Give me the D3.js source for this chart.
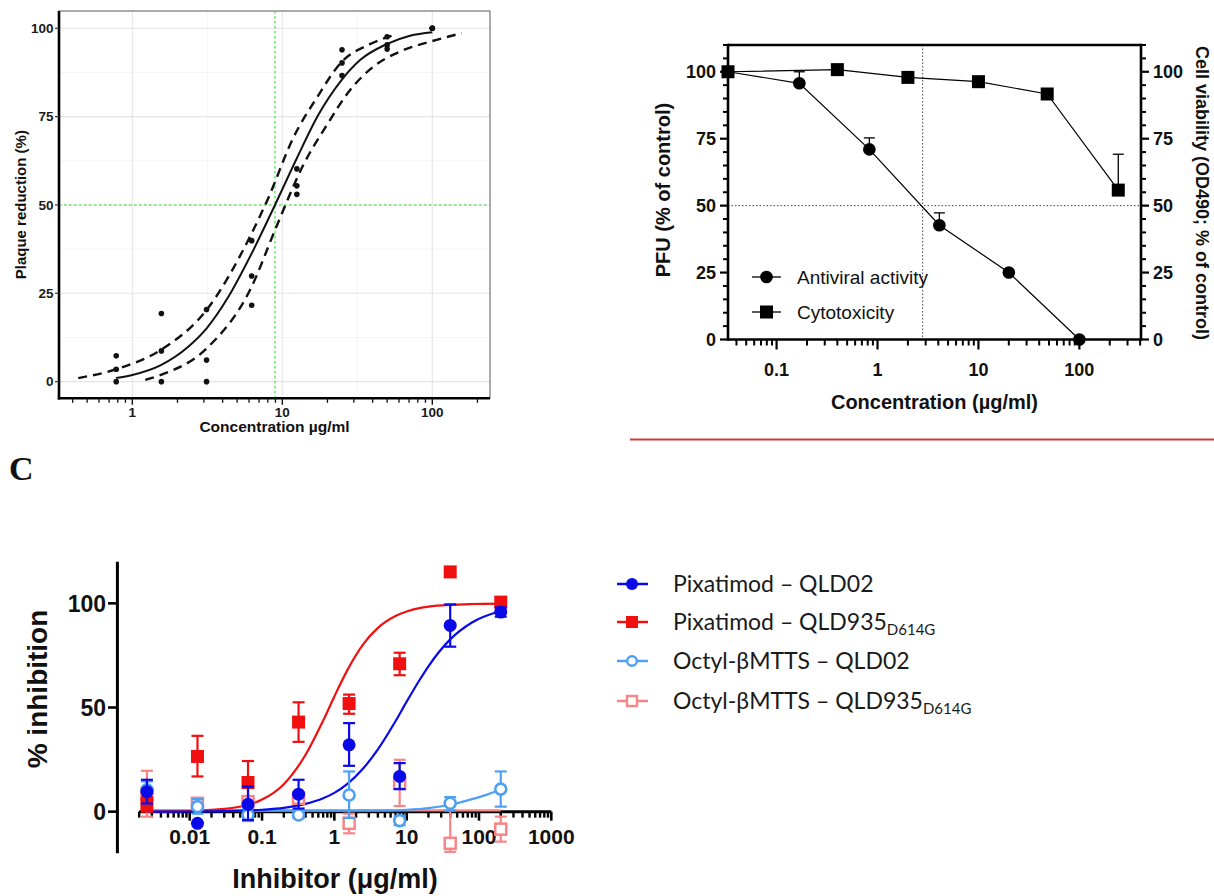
<!DOCTYPE html>
<html><head><meta charset="utf-8">
<script src="https://cdn.jsdelivr.net/npm/d3@7"></script>
<style>body{margin:0;background:#fff} svg{display:block}</style>
</head><body>
<svg id="chart" width="1214" height="896"></svg>
<script>
// ================= DATA =================
// ---- Panel A: plaque reduction (replicates) ----
const aConc = [0.78125, 1.5625, 3.125, 6.25, 12.5, 25, 50, 100];
const aRep1 = [7.3, 19.3, 20.4, 39.9, 60.2, 93.9, 97.6, 100];
const aRep2 = [3.5, 8.7, 6.1, 29.9, 55.4, 90.2, 95.3, 100];
const aRep3 = [0, 0, 0, 21.6, 53.0, 86.6, 94.1, 100];
// fitted curve and confidence band
const aFitX = [0.78, 1.0, 1.55, 2.36, 3.13, 4.37, 6.25, 8.94, 12.5, 17.4, 24.9, 33, 49.6, 71, 100];
const aFitY = [1.0, 1.9, 4.7, 9.9, 15.1, 24.0, 36.3, 50.0, 63.2, 75.5, 85.4, 91.0, 95.5, 97.9, 98.9];
const aUpX = [0.436, 0.78, 1.55, 3.13, 6.25, 8.07, 11.8, 16.9, 24.9, 38.4, 57.9];
const aUpY = [1.0, 3.5, 9.0, 20.3, 42.0, 52.0, 68.9, 80.2, 90.5, 95.5, 98.3];
const aLoX = [1.22, 1.55, 3.13, 6.25, 8.94, 13.8, 19.8, 28.3, 40.4, 60.9, 96.6, 157];
const aLoY = [0.5, 1.9, 9.4, 26.9, 42.9, 61.3, 72.6, 82.5, 89.1, 93.4, 96.2, 98.6];
const aIC50 = [8.94];
const aHalf = [50];
const aXTicks = [1, 10, 100];
const aXTickLabels = ["1", "10", "100"];
const aXMinorGrid = [3.1623, 31.623];
const aYTicks = [0, 25, 50, 75, 100];
const aYMinorGrid = [12.5, 37.5, 62.5, 87.5];

// ---- Panel B: antiviral activity / cytotoxicity ----
const bAntiConc = [0.033, 0.168, 0.83, 4.1, 20, 100];
const bAntiVal = [100, 95.7, 71.0, 42.7, 25.0, 0];
const bAntiErr = [0, 4.3, 4.3, 4.6, 0, 0];
const bCytoConc = [0.033, 0.4, 2, 10, 48, 243];
const bCytoVal = [100, 100.8, 97.9, 96.3, 91.7, 55.8];
const bCytoErr = [0, 0, 0, 0, 0, 13.4];
const bRefX = [2.8];
const bRefY = [50];
const bXTicks = [0.1, 1, 10, 100];
const bXTickLabels = ["0.1", "1", "10", "100"];
const bYTicks = [0, 25, 50, 75, 100];
const bLegend = ["Antiviral activity", "Cytotoxicity"];

// ---- Panel C: % inhibition ----
const cConc = [0.00256, 0.0128, 0.064, 0.32, 1.6, 8, 40, 200];
const pixQLD02 = [9.6, -5.6, 3.5, 8.4, 32.1, 16.9, 89.4, 95.8];
const pixQLD02Hi = [15.3, -5.6, 12, 15.3, 42.5, 23.3, 99.5, 98];
const pixQLD02Lo = [3.9, -5.6, -4, 1.5, 22, 10.8, 79.2, 93.6];
const pixQLD935 = [3.5, 26.5, 14, 43, 51.9, 71, 115.1, 100.6];
const pixQLD935Hi = [7, 36.4, 24.3, 52.5, 56.2, 76.3, 115.1, 100.6];
const pixQLD935Lo = [0, 16.9, 4, 33.5, 47, 65.5, 115.1, 100.6];
const octQLD02 = [10.5, 2.4, -1.6, -1.6, 8, -4.3, 4, 10.8];
const octQLD02Hi = [14.5, 6, 1.5, 0, 19.3, -2, 7, 19.3];
const octQLD02Lo = [6.5, -1, -4.5, -3, -3, -6.5, 0.5, 2.4];
const octQLD935 = [8.5, 4, 4.8, 6.4, -5.6, 13.6, -15.2, -8.4];
const octQLD935Hi = [19.6, 6.5, 7, 8.5, -1, 24.9, 3.2, -2.4];
const octQLD935Lo = [-2.4, 1, 2.5, 4, -10.4, 2.7, -19.3, -14.4];
// fitted curves
const cFitX = [0.0025, 0.005, 0.01, 0.03, 0.1, 0.2, 0.4, 0.7, 1, 1.5, 2.5, 4, 7, 10, 15, 20, 40, 80, 200];
const pixQLD935Fit = [0, 0.1, 0.3, 1.3, 5.8, 13.2, 27.3, 43.7, 55.3, 67.7, 80.3, 88.2, 93.9, 96.1, 97.7, 98.4, 99.3, 99.7, 99.9];
const pixQLD02Fit = [0, 0.04, 0.08, 0.25, 0.9, 1.8, 3.7, 6.4, 9.0, 13.2, 20.7, 29.9, 43.4, 52.8, 63.1, 69.8, 82.7, 90.8, 96.3];
const octQLD02FitX = [0.0025, 0.1, 1, 5, 10, 20, 40, 80, 120, 200];
const octQLD02Fit = [0.5, 0.5, 0.5, 0.6, 0.9, 1.7, 3.3, 6.0, 7.8, 10.5];
const octQLD935FitX = [0.0025, 200];
const octQLD935Fit = [0.6, 0.6];
const cXTicks = [0.01, 0.1, 1, 10, 100, 1000];
const cXTickLabels = ["0.01", "0.1", "1", "10", "100", "1000"];
const cYTicks = [0, 50, 100];
const cSeriesNames = ["Pixatimod \u2013 QLD02", "Pixatimod \u2013 QLD935", "Octyl-\u03B2MTTS \u2013 QLD02", "Octyl-\u03B2MTTS \u2013 QLD935"];
const cSeriesSubs = ["", "D614G", "", "D614G"];

// ================= DRAWING =================
const svg = d3.select("#chart");
const FONT = "'Liberation Sans', Arial, Helvetica, sans-serif";
const line = (x, y) => d3.line().x(d => x(d[0])).y(d => y(d[1])).curve(d3.curveMonotoneX);
const zip = (a, b) => a.map((v, i) => [v, b[i]]);

// ---------------- Panel A ----------------
(function () {
  const g = svg.append("g");
  const x = d3.scaleLog().domain([0.3245, 242.5]).range([59, 490]);
  const y = d3.scaleLinear().domain([-5, 105]).range([399.3, 10.6]);
  const [x0, x1] = x.range(), yTop = 11, yBot = 398.3;
  g.selectAll(".gmy").data(aYMinorGrid).join("line").attr("x1", x0).attr("x2", x1)
    .attr("y1", d => y(d)).attr("y2", d => y(d)).attr("stroke", "#f2f2f2").attr("stroke-width", 0.8);
  g.selectAll(".gmx").data(aXMinorGrid).join("line").attr("y1", yTop).attr("y2", yBot)
    .attr("x1", d => x(d)).attr("x2", d => x(d)).attr("stroke", "#f2f2f2").attr("stroke-width", 0.8);
  g.selectAll(".gy").data(aYTicks).join("line").attr("x1", x0).attr("x2", x1)
    .attr("y1", d => y(d)).attr("y2", d => y(d)).attr("stroke", "#e4e4e4").attr("stroke-width", 1.1);
  g.selectAll(".gx").data(aXTicks).join("line").attr("y1", yTop).attr("y2", yBot)
    .attr("x1", d => x(d)).attr("x2", d => x(d)).attr("stroke", "#e4e4e4").attr("stroke-width", 1.1);
  g.append("rect").attr("x", x0).attr("y", yTop).attr("width", x1 - x0).attr("height", yBot - yTop)
    .attr("fill", "none").attr("stroke", "#6a6a6a").attr("stroke-width", 1.1);
  g.selectAll(".ic").data(aIC50).join("line").attr("x1", d => x(d)).attr("x2", d => x(d))
    .attr("y1", yTop).attr("y2", yBot).attr("stroke", "#2ee02e").attr("stroke-width", 1.1).attr("stroke-dasharray", "2.5,2.5");
  g.selectAll(".hf").data(aHalf).join("line").attr("y1", d => y(d)).attr("y2", d => y(d))
    .attr("x1", x0).attr("x2", x1).attr("stroke", "#2ee02e").attr("stroke-width", 1.1).attr("stroke-dasharray", "2.5,2.5");
  g.append("path").attr("d", line(x, y)(zip(aUpX, aUpY))).attr("fill", "none").attr("stroke", "#111")
    .attr("stroke-width", 2.4).attr("stroke-dasharray", "9,6");
  g.append("path").attr("d", line(x, y)(zip(aLoX, aLoY))).attr("fill", "none").attr("stroke", "#111")
    .attr("stroke-width", 2.4).attr("stroke-dasharray", "9,6");
  g.append("path").attr("d", line(x, y)(zip(aFitX, aFitY))).attr("fill", "none").attr("stroke", "#111")
    .attr("stroke-width", 2);
  [aRep1, aRep2, aRep3].forEach(rep => {
    g.selectAll(null).data(zip(aConc, rep)).join("circle").attr("cx", d => x(d[0])).attr("cy", d => y(d[1]))
      .attr("r", 2.8).attr("fill", "#111");
  });
  g.append("line").attr("x1", x0).attr("x2", x0).attr("y1", yTop).attr("y2", yBot + 1.2).attr("stroke", "#000").attr("stroke-width", 2.6);
  g.append("line").attr("x1", x0 - 1.2).attr("x2", x1).attr("y1", yBot).attr("y2", yBot).attr("stroke", "#000").attr("stroke-width", 2.6);
  g.selectAll(".yt").data(aYTicks).join("line").attr("x1", x0 - 4).attr("x2", x0).attr("y1", d => y(d)).attr("y2", d => y(d))
    .attr("stroke", "#333").attr("stroke-width", 1.2);
  g.selectAll(".yl").data(aYTicks).join("text").attr("x", x0 - 5.5).attr("y", d => y(d)).attr("dy", "0.36em")
    .attr("text-anchor", "end").attr("font-family", FONT).attr("font-weight", "bold").attr("font-size", 13.5).attr("fill", "#1a1a1a").text(d => d);
  const minor = x.ticks().filter(t => !aXTicks.includes(t));
  g.selectAll(".xm").data(minor).join("line").attr("x1", d => x(d)).attr("x2", d => x(d)).attr("y1", yBot).attr("y2", yBot + 4.5)
    .attr("stroke", "#111").attr("stroke-width", 1.3);
  g.selectAll(".xt").data(aXTicks).join("line").attr("x1", d => x(d)).attr("x2", d => x(d)).attr("y1", yBot).attr("y2", yBot + 6.5)
    .attr("stroke", "#111").attr("stroke-width", 1.4);
  g.selectAll(".xl").data(aXTicks).join("text").attr("x", d => x(d)).attr("y", 417)
    .attr("text-anchor", "middle").attr("font-family", FONT).attr("font-weight", "bold").attr("font-size", 13.5).attr("fill", "#1a1a1a")
    .text((d, i) => aXTickLabels[i]);
  g.append("text").attr("x", (x0 + x1) / 2).attr("y", 432).attr("text-anchor", "middle").attr("font-family", FONT)
    .attr("font-weight", "bold").attr("font-size", 15.5).attr("fill", "#111").text("Concentration \u00B5g/ml");
  g.append("text").attr("transform", `translate(26,${(yTop + yBot) / 2}) rotate(-90)`).attr("text-anchor", "middle").attr("font-family", FONT)
    .attr("font-weight", "bold").attr("font-size", 15).attr("fill", "#111").text("Plaque reduction (%)");
})();

// ---------------- Panel B ----------------
(function () {
  const g = svg.append("g");
  const x = d3.scaleLog().domain([0.033, 408]).range([728, 1141]);
  const y = d3.scaleLinear().domain([0, 110]).range([339.5, 45]);
  const [x0, x1] = x.range(), yTop = 45, yBot = 339.5;
  g.selectAll(".rx").data(bRefX).join("line").attr("x1", d => x(d)).attr("x2", d => x(d)).attr("y1", yTop).attr("y2", yBot)
    .attr("stroke", "#444").attr("stroke-width", 1).attr("stroke-dasharray", "1.5,2");
  g.selectAll(".ry").data(bRefY).join("line").attr("y1", d => y(d)).attr("y2", d => y(d)).attr("x1", x0).attr("x2", x1)
    .attr("stroke", "#444").attr("stroke-width", 1).attr("stroke-dasharray", "1.5,2");
  g.append("line").attr("x1", x0).attr("x2", x1).attr("y1", yTop).attr("y2", yTop).attr("stroke", "#000").attr("stroke-width", 2.6);
  g.append("line").attr("x1", x0).attr("x2", x1).attr("y1", yBot).attr("y2", yBot).attr("stroke", "#000").attr("stroke-width", 2.6);
  g.append("line").attr("x1", x0).attr("x2", x0).attr("y1", yTop - 1.3).attr("y2", yBot + 1.3).attr("stroke", "#000").attr("stroke-width", 2.6);
  g.append("line").attr("x1", x1).attr("x2", x1).attr("y1", yTop - 1.3).attr("y2", yBot + 1.3).attr("stroke", "#000").attr("stroke-width", 2.6);
  const yMinor = d3.range(5, 111, 5).filter(v => !bYTicks.includes(v));
  [[x0, -1], [x1, 1]].forEach(([ax, s]) => {
    g.selectAll(null).data(yMinor).join("line").attr("x1", ax).attr("x2", ax + s * 5).attr("y1", d => y(d)).attr("y2", d => y(d))
      .attr("stroke", "#000").attr("stroke-width", 2);
    g.selectAll(null).data(bYTicks).join("line").attr("x1", ax).attr("x2", ax + s * 8).attr("y1", d => y(d)).attr("y2", d => y(d))
      .attr("stroke", "#000").attr("stroke-width", 2.2);
    g.selectAll(null).data(bYTicks).join("text").attr("x", ax + s * 12).attr("y", d => y(d)).attr("dy", "0.36em")
      .attr("text-anchor", s < 0 ? "end" : "start").attr("font-family", FONT).attr("font-weight", "bold").attr("font-size", 18)
      .attr("fill", "#111").text(d => d);
  });
  const minor = x.ticks().filter(t => !bXTicks.some(m => Math.abs(m - t) < 1e-9));
  g.selectAll(".xm").data(minor).join("line").attr("x1", d => x(d)).attr("x2", d => x(d)).attr("y1", yBot).attr("y2", yBot + 6)
    .attr("stroke", "#000").attr("stroke-width", 2);
  g.selectAll(".xt").data(bXTicks).join("line").attr("x1", d => x(d)).attr("x2", d => x(d)).attr("y1", yBot).attr("y2", yBot + 10)
    .attr("stroke", "#000").attr("stroke-width", 2.2);
  g.selectAll(".xl").data(bXTicks).join("text").attr("x", d => x(d)).attr("y", 376)
    .attr("text-anchor", "middle").attr("font-family", FONT).attr("font-weight", "bold").attr("font-size", 18).attr("fill", "#111")
    .text((d, i) => bXTickLabels[i]);
  g.append("text").attr("x", (x0 + x1) / 2).attr("y", 409).attr("text-anchor", "middle").attr("font-family", FONT)
    .attr("font-weight", "bold").attr("font-size", 20).attr("fill", "#111").text("Concentration (\u00B5g/ml)");
  g.append("text").attr("transform", "translate(670,190) rotate(-90)").attr("text-anchor", "middle").attr("font-family", FONT)
    .attr("font-weight", "bold").attr("font-size", 20).attr("fill", "#111").text("PFU (% of control)");
  g.append("text").attr("transform", "translate(1196,193) rotate(90)").attr("text-anchor", "middle").attr("font-family", FONT)
    .attr("font-weight", "bold").attr("font-size", 18).attr("fill", "#111").text("Cell viability (OD490; % of control)");
  g.append("path").attr("d", d3.line().x(d => x(d[0])).y(d => y(d[1]))(zip(bAntiConc, bAntiVal))).attr("fill", "none").attr("stroke", "#000").attr("stroke-width", 1.2);
  g.append("path").attr("d", d3.line().x(d => x(d[0])).y(d => y(d[1]))(zip(bCytoConc, bCytoVal))).attr("fill", "none").attr("stroke", "#000").attr("stroke-width", 1.2);
  const eb = (conc, val, err) => conc.forEach((c, i) => {
    if (err[i] <= 0) return;
    const cx = x(c), yv = y(val[i]), ye = y(val[i] + err[i]);
    g.append("line").attr("x1", cx).attr("x2", cx).attr("y1", yv).attr("y2", ye).attr("stroke", "#000").attr("stroke-width", 1.3);
    g.append("line").attr("x1", cx - 5.5).attr("x2", cx + 5.5).attr("y1", ye).attr("y2", ye).attr("stroke", "#000").attr("stroke-width", 1.3);
  });
  eb(bAntiConc, bAntiVal, bAntiErr);
  eb(bCytoConc, bCytoVal, bCytoErr);
  g.selectAll(".ca").data(zip(bAntiConc, bAntiVal)).join("circle").attr("cx", d => x(d[0])).attr("cy", d => y(d[1])).attr("r", 6.3).attr("fill", "#000");
  g.selectAll(".cs").data(zip(bCytoConc, bCytoVal)).join("rect").attr("x", d => x(d[0]) - 6.5).attr("y", d => y(d[1]) - 6.5)
    .attr("width", 13).attr("height", 13).attr("fill", "#000");
  const ly = [277, 312];
  bLegend.forEach((name, i) => {
    g.append("line").attr("x1", 752).attr("x2", 781).attr("y1", ly[i]).attr("y2", ly[i]).attr("stroke", "#000").attr("stroke-width", 1.3);
    if (i === 0) g.append("circle").attr("cx", 766.5).attr("cy", ly[i]).attr("r", 6.3).attr("fill", "#000");
    else g.append("rect").attr("x", 760).attr("y", ly[i] - 6.5).attr("width", 13).attr("height", 13).attr("fill", "#000");
    g.append("text").attr("x", 797).attr("y", ly[i]).attr("dy", "0.36em").attr("font-family", FONT).attr("font-size", 19)
      .attr("fill", "#111").text(name);
  });
  svg.append("line").attr("x1", 630).attr("x2", 1214).attr("y1", 439.5).attr("y2", 439.5).attr("stroke", "#d23a3a").attr("stroke-width", 2);
})();

// ---------------- Panel label C ----------------
svg.append("text").attr("x", 9).attr("y", 480).attr("font-family", "'Liberation Serif', 'Times New Roman', serif")
  .attr("font-weight", "bold").attr("font-size", 34).attr("fill", "#111").text("C");

// ---------------- Panel C ----------------
(function () {
  const g = svg.append("g");
  const x = d3.scaleLog().domain([0.001, 1000]).range([117.4, 551.3]);
  const y = d3.scaleLinear().domain([-20, 120]).range([853.3, 561.7]);
  const colors = ["#0a0ae8", "#f01010", "#4f9ff5", "#f78585"];
  g.append("line").attr("x1", 117.4).attr("x2", 117.4).attr("y1", y(120)).attr("y2", y(-20)).attr("stroke", "#000").attr("stroke-width", 3);
  g.selectAll(".yt").data(cYTicks).join("line").attr("x1", 108).attr("x2", 117.4).attr("y1", d => y(d)).attr("y2", d => y(d))
    .attr("stroke", "#000").attr("stroke-width", 2.6);
  g.selectAll(".yl").data(cYTicks).join("text").attr("x", 106).attr("y", d => y(d)).attr("dy", "0.36em").attr("text-anchor", "end")
    .attr("font-family", FONT).attr("font-weight", "bold").attr("font-size", 23).attr("fill", "#111").text(d => d);
  const y0 = y(0);
  g.append("line").attr("x1", x(0.002)).attr("x2", x(1000)).attr("y1", y0).attr("y2", y0).attr("stroke", "#000").attr("stroke-width", 3);
  const minor = x.ticks().filter(t => t >= 0.0019 && !cXTicks.some(m => Math.abs(m - t) < 1e-12));
  g.selectAll(".xm").data(minor).join("line").attr("x1", d => x(d)).attr("x2", d => x(d)).attr("y1", y0).attr("y2", y0 + 6)
    .attr("stroke", "#000").attr("stroke-width", 2.4);
  g.selectAll(".xt").data(cXTicks).join("line").attr("x1", d => x(d)).attr("x2", d => x(d)).attr("y1", y0).attr("y2", y0 + 9)
    .attr("stroke", "#000").attr("stroke-width", 2.6);
  g.selectAll(".xl").data(cXTicks).join("text").attr("x", d => x(d)).attr("y", 844).attr("text-anchor", "middle")
    .attr("font-family", FONT).attr("font-weight", "bold").attr("font-size", 21).attr("fill", "#111").text((d, i) => cXTickLabels[i]);
  g.append("text").attr("x", 335).attr("y", 888).attr("text-anchor", "middle").attr("font-family", FONT)
    .attr("font-weight", "bold").attr("font-size", 27).attr("fill", "#111").text("Inhibitor (\u03BCg/ml)");
  g.append("text").attr("transform", "translate(47,689) rotate(-90)").attr("text-anchor", "middle").attr("font-family", FONT)
    .attr("font-weight", "bold").attr("font-size", 28).attr("fill", "#111").text("% inhibition");
  const drawCurve = (xs, ys, c) => g.append("path").attr("d", line(x, y)(zip(xs, ys))).attr("fill", "none")
    .attr("stroke", c).attr("stroke-width", 2.2);
  drawCurve(octQLD935FitX, octQLD935Fit, colors[3]);
  drawCurve(octQLD02FitX, octQLD02Fit, colors[2]);
  drawCurve(cFitX, pixQLD935Fit, colors[1]);
  drawCurve(cFitX, pixQLD02Fit, colors[0]);
  const errBars = (vals, lo, hi, c, w) => cConc.forEach((cc, i) => {
    if (hi[i] - lo[i] < 0.5) return;
    const cx = x(cc);
    g.append("line").attr("x1", cx).attr("x2", cx).attr("y1", y(lo[i])).attr("y2", y(hi[i])).attr("stroke", c).attr("stroke-width", w);
    [lo[i], hi[i]].forEach(v => g.append("line").attr("x1", cx - 6).attr("x2", cx + 6).attr("y1", y(v)).attr("y2", y(v))
      .attr("stroke", c).attr("stroke-width", w));
  });
  errBars(octQLD935, octQLD935Lo, octQLD935Hi, colors[3], 2.2);
  g.selectAll(".m3").data(zip(cConc, octQLD935)).join("rect").attr("x", d => x(d[0]) - 5.5).attr("y", d => y(d[1]) - 5.5)
    .attr("width", 11).attr("height", 11).attr("fill", "#fff").attr("stroke", colors[3]).attr("stroke-width", 2.5);
  errBars(octQLD02, octQLD02Lo, octQLD02Hi, colors[2], 2.2);
  g.selectAll(".m2").data(zip(cConc, octQLD02)).join("circle").attr("cx", d => x(d[0])).attr("cy", d => y(d[1]))
    .attr("r", 5.5).attr("fill", "#fff").attr("stroke", colors[2]).attr("stroke-width", 2.6);
  errBars(pixQLD935, pixQLD935Lo, pixQLD935Hi, colors[1], 2.2);
  g.selectAll(".m1").data(zip(cConc, pixQLD935)).join("rect").attr("x", d => x(d[0]) - 6.5).attr("y", d => y(d[1]) - 6.5)
    .attr("width", 13).attr("height", 13).attr("fill", colors[1]);
  errBars(pixQLD02, pixQLD02Lo, pixQLD02Hi, colors[0], 2.2);
  g.selectAll(".m0").data(zip(cConc, pixQLD02)).join("circle").attr("cx", d => x(d[0])).attr("cy", d => y(d[1]))
    .attr("r", 6.5).attr("fill", colors[0]);
  const ly = [584, 622, 661, 701];
  const LFONT = "Lato, 'Open Sans', 'Noto Sans', sans-serif";
  cSeriesNames.forEach((name, i) => {
    const c = colors[i], yy = ly[i];
    g.append("line").attr("x1", 617).attr("x2", 648).attr("y1", yy).attr("y2", yy).attr("stroke", c).attr("stroke-width", 2.5);
    if (i === 0) g.append("circle").attr("cx", 632).attr("cy", yy).attr("r", 6).attr("fill", c);
    if (i === 1) g.append("rect").attr("x", 626).attr("y", yy - 6).attr("width", 12).attr("height", 12).attr("fill", c);
    if (i === 2) g.append("circle").attr("cx", 632).attr("cy", yy).attr("r", 4.8).attr("fill", "#fff").attr("stroke", c).attr("stroke-width", 2.4);
    if (i === 3) g.append("rect").attr("x", 627).attr("y", yy - 5).attr("width", 10).attr("height", 10).attr("fill", "#fff").attr("stroke", c).attr("stroke-width", 2.4);
    const t = g.append("text").attr("x", 673).attr("y", yy).attr("dy", "0.36em").attr("font-family", LFONT)
      .attr("font-size", 23).attr("fill", "#1a1a1a").text(name);
    if (cSeriesSubs[i]) t.append("tspan").attr("font-size", 15).attr("dy", "0.3em").text(cSeriesSubs[i]);
  });
})();
</script>
</body></html>
